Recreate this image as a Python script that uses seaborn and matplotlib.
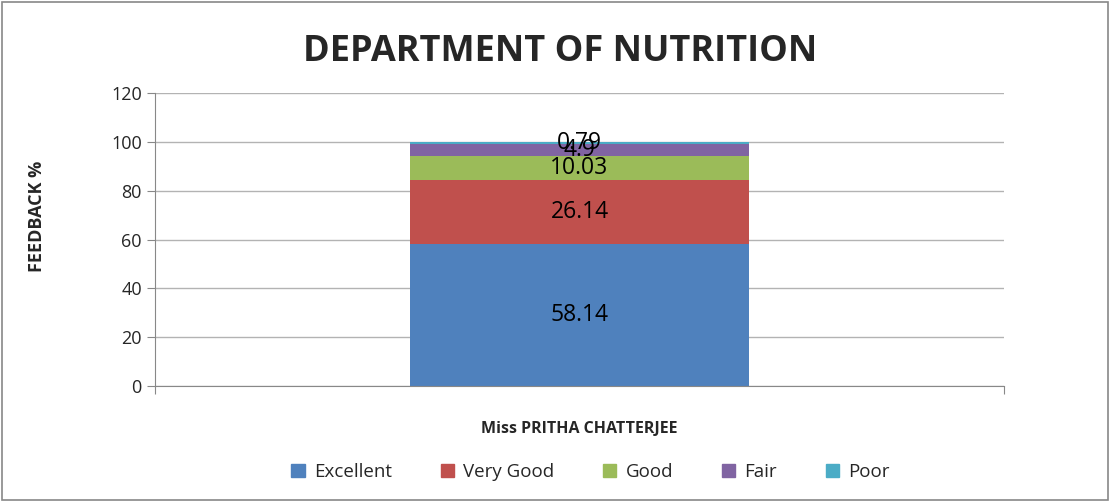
import pandas as pd
import matplotlib.pyplot as plt
import seaborn as sns
from matplotlib.patches import Rectangle

teacher = ["Miss PRITHA CHATTERJEE"]
categories = ["Excellent", "Very Good", "Good", "Fair", "Poor"]
values = [58.14, 26.14, 10.03, 4.9, 0.79]
colors = ["#4F81BD", "#C0504D", "#9BBB59", "#8064A2", "#4BACC6"]
yticks = [0, 20, 40, 60, 80, 100, 120]

sns.set_style("white")
plt.rcParams['font.family'] = ['Open Sans', 'DejaVu Sans']

fig = plt.figure(figsize=(11.1, 5.01), dpi=100)
ax = fig.add_axes([0.1396, 0.2295, 0.7649, 0.5849])

df = pd.DataFrame({"teacher": teacher * len(categories),
                   "category": categories, "value": values})

bottom = 0
for cat, val, col in zip(categories, values, colors):
    sub = df[df["category"] == cat]
    sns.barplot(data=sub, x="teacher", y="value", color=col, width=0.4,
                bottom=bottom, ax=ax, saturation=1, linewidth=0)
    ax.text(0, bottom + val / 2, f"{val:g}", ha="center", va="center",
            fontsize=16.5, color="black")
    bottom += val

ax.set_xlim(-0.5, 0.5)
ax.set_ylim(0, 120)
ax.set_yticks(yticks)
ax.set_xticks([-0.5, 0.5])
ax.set_xticklabels(["", ""])
ax.tick_params(axis="y", labelsize=13, length=6, color="#888888", direction="out", left=True)
ax.tick_params(axis="x", length=6, color="#888888", direction="out", bottom=True)
ax.grid(axis="y", color="#b3b3b3", linewidth=1)
ax.set_axisbelow(True)
for side in ["top", "right"]:
    ax.spines[side].set_visible(False)
for side in ["left", "bottom"]:
    ax.spines[side].set_color("#888888")

ax.set_ylabel("FEEDBACK %", fontsize=13, fontweight="bold")
ax.yaxis.set_label_coords(-0.128, 0.58)
ax.set_xlabel(teacher[0], fontsize=11.5, fontweight="bold")
ax.xaxis.set_label_coords(0.5, -0.12)
fig.text(0.505, 0.897, "DEPARTMENT OF NUTRITION", ha="center", va="center",
         fontsize=26, fontweight="bold")

handles = [Rectangle((0, 0), 1, 1, color=c) for c in colors]
fig.legend(handles, categories, loc="center", bbox_to_anchor=(0.532, 0.058), ncol=5,
           frameon=False, fontsize=13.5, handlelength=0.7, handleheight=0.7,
           columnspacing=2.6, handletextpad=0.5)

fig.patches.append(Rectangle((0.002, 0.002), 0.996, 0.994, transform=fig.transFigure,
                             fill=False, edgecolor="#888888", linewidth=1.2))

fig.savefig("out.png", dpi=100)
